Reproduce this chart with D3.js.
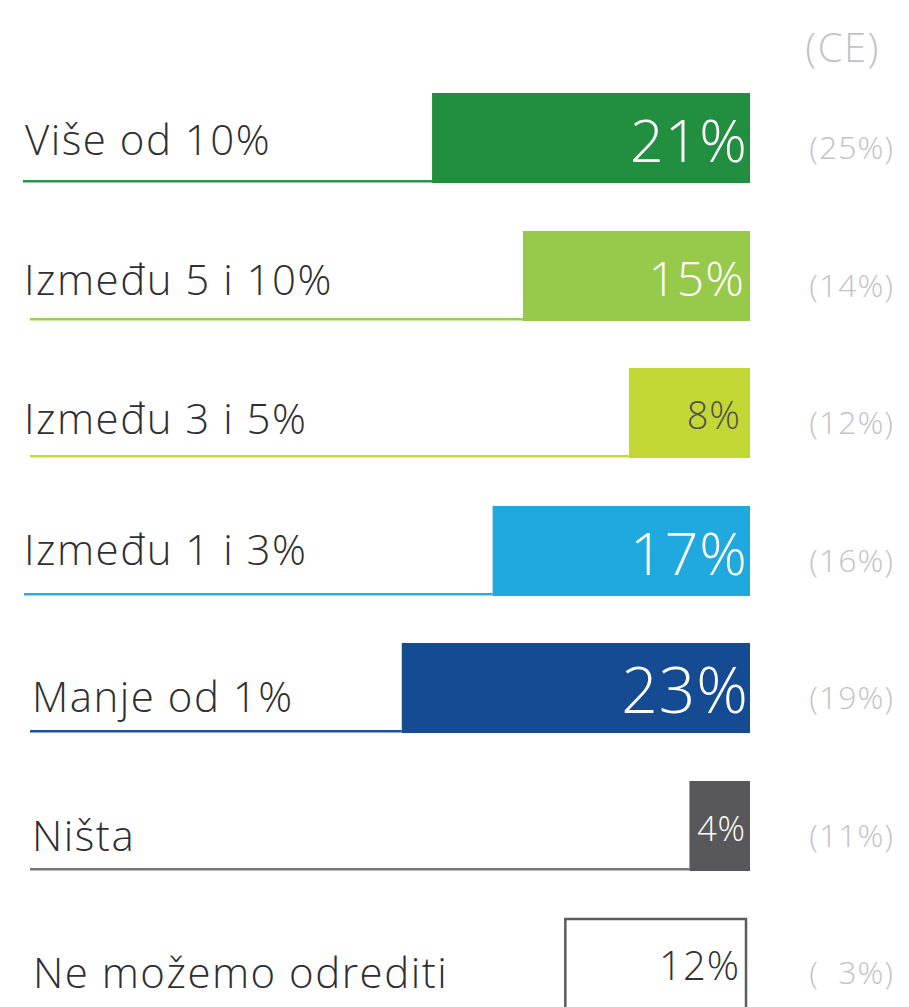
<!DOCTYPE html>
<html>
<head>
<meta charset="utf-8">
<script src="https://cdn.jsdelivr.net/npm/d3@7"></script>
<style>
  body { margin: 0; background: #fff; }
  text { font-family: "Open Sans", "Noto Sans", sans-serif; }
</style>
</head>
<body>
<div id="chart"></div>
<script>
// podaci ---------------------------------------------------------------
const categories = ['Više od 10%', 'Između 5 i 10%', 'Između 3 i 5%', 'Između 1 i 3%', 'Manje od 1%', 'Ništa', 'Ne možemo odrediti'];
const values = [21, 15, 8, 17, 23, 4, 12];
const ceValues = [25, 14, 12, 16, 19, 11, 3];
const ceTitle = '(CE)';

// stil po redovima -----------------------------------------------------
const barColors = ['#218f3f', '#97c94b', '#c3d834', '#1fa9df', '#144b93', '#58585a', 'none'];
const lineColors = ['#2a9447', '#9ccd52', '#c6da3c', '#27ade0', '#1f4f95', '#77777a', 'none'];
const valueColors = ['#fff', '#fff', '#505052', '#fff', '#fff', '#fff', '#333'];
const valueSizes = [59, 48, 38, 59, 64, 34, 40];
const valueRight = [748, 745, 741, 748, 749, 746, 740];
const labelX = [25, 24, 24, 24, 32, 32, 33];
const lineX = [23, 30, 30, 24, 30, 30, 30];
const labelDy = [62, 64, 66, 59, 69, 70, 70];

const width = 909, height = 1007;
const barRight = 750, barH = 90;

const svg = d3.select('#chart').append('svg')
  .attr('width', width)
  .attr('height', height);

// skale ---------------------------------------------------------------
const x = d3.scaleLinear().domain([0, 100]).range([0, 1514]);
const y = d3.scaleLinear().domain([0, categories.length - 1]).range([93, 918]);

const rows = categories.map((c, i) => ({ label: c, v: values[i], ce: ceValues[i], i: i }));

// naslov CE
svg.append('text')
  .attr('x', 880).attr('y', 62)
  .attr('text-anchor', 'end')
  .attr('font-size', '40px')
  .attr('font-weight', 300)
  .attr('letter-spacing', '1.5px')
  .attr('fill', '#c3c3c5')
  .text(ceTitle);

const g = svg.selectAll('g.row')
  .data(rows)
  .enter()
  .append('g')
  .attr('class', 'row')
  .attr('transform', d => 'translate(0,' + Math.round(y(d.i)) + ')');

// linija ispod
g.filter(d => d.i < 6)
  .append('rect')
  .attr('x', d => lineX[d.i])
  .attr('y', barH - 3)
  .attr('width', d => barRight - x(d.v) - lineX[d.i])
  .attr('height', 2.5)
  .attr('fill', d => lineColors[d.i]);

// stupac
g.append('rect')
  .attr('x', d => barRight - x(d.v) + (d.i === 6 ? -3 : 0))
  .attr('y', d => d.i === 6 ? 1 : 0)
  .attr('width', d => x(d.v) - (d.i === 6 ? 1 : 0))
  .attr('height', d => d.i === 6 ? barH + 10 : barH)
  .attr('fill', d => d.i === 6 ? 'none' : barColors[d.i])
  .attr('stroke', d => d.i === 6 ? '#5c5c5e' : 'none')
  .attr('stroke-width', 2.5);

// natpis kategorije
g.append('text')
  .attr('x', d => labelX[d.i])
  .attr('y', d => labelDy[d.i])
  .attr('font-size', '42px')
  .attr('font-weight', 300)
  .attr('letter-spacing', '1.5px')
  .attr('fill', '#2f2f31')
  .text(d => d.label);

// vrijednost
g.append('text')
  .attr('x', d => valueRight[d.i])
  .attr('y', d => 48 + valueSizes[d.i] * 0.35)
  .attr('text-anchor', 'end')
  .attr('font-size', d => valueSizes[d.i] + 'px')
  .attr('font-weight', 300)
  .attr('letter-spacing', '1px')
  .attr('fill', d => valueColors[d.i])
  .text(d => d.v + '%');

// CE vrijednost
g.append('text')
  .attr('x', 894)
  .attr('y', 66)
  .attr('text-anchor', 'end')
  .attr('font-size', '32px')
  .attr('font-weight', 300)
  .attr('letter-spacing', '1px')
  .attr('fill', '#c3c3c5')
  .text(d => '(' + (d.ce < 10 ? '\u2007' : '') + d.ce + '%)');
</script>
</body>
</html>
